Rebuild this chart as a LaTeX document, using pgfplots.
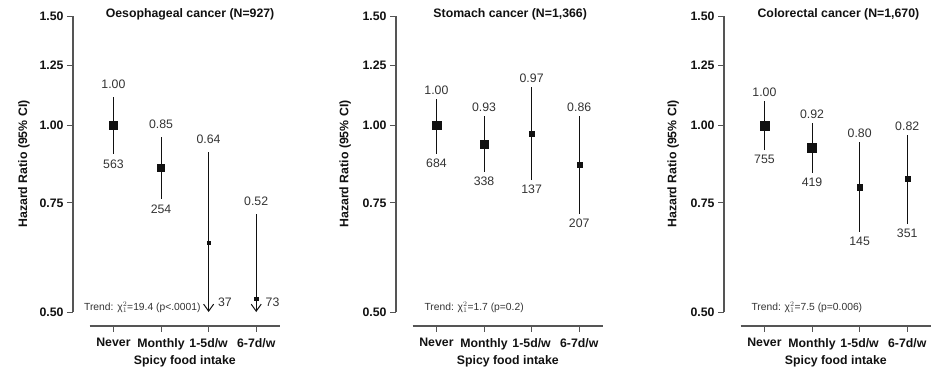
\documentclass[border=0pt]{standalone}
\usepackage{fontspec}
\setmainfont{Liberation Sans}
\usepackage{pgfplots}
\pgfplotsset{compat=1.18}
\usepackage{pgfplotstable}
\usetikzlibrary{arrows.meta}
\definecolor{axgray}{HTML}{555555}
\definecolor{labgray}{HTML}{333333}
\definecolor{ink}{HTML}{111111}
\newcommand{\bfont}{\fontsize{12.3}{14}\selectfont\bfseries}
\newcommand{\vfont}{\fontsize{12.3}{14}\selectfont}
\newcommand{\tfont}{\fontsize{10.3}{12}\selectfont}

\pgfplotstableread{
x y lo hi lab n s
0 1.000 0.899 1.110 1.00 563 4.1
1 0.853 0.761 0.957 0.85 254 3.5
2 0.646 0.500 0.905 0.64 37 1.6
3 0.525 0.500 0.719 0.52 73 1.7
}\oesoph
\pgfplotstableread{
x y lo hi lab n s
0 1.000 0.899 1.102 1.00 684 4.3
1 0.933 0.841 1.035 0.93 338 4.2
2 0.968 0.816 1.152 0.97 137 2.5
3 0.863 0.719 1.035 0.86 207 2.5
}\stomach
\pgfplotstableread{
x y lo hi lab n s
0 1.000 0.912 1.094 1.00 755 4.5
1 0.919 0.838 1.008 0.92 419 4.4
2 0.795 0.673 0.940 0.80 145 2.7
3 0.819 0.693 0.964 0.82 351 2.5
}\colorectal

\pgfplotsset{
  myaxisstyle/.style={
    scale only axis, width=207pt, height=310pt,
    xmin=-0.85, xmax=3.5, ymin=0.4747, ymax=1.5,
    clip=false, axis line style={draw=none},
    xtick={0,1,2,3}, xticklabels={Never,Monthly,1-5d/w,6-7d/w},
    ytick={0.5,0.75,1,1.25,1.5}, yticklabels={0.50,0.75,1.00,1.25,1.50},
    yminorticks=false, xminorticks=false,
    tick pos=left, tick align=outside, major tick length=6pt,
    tick style={axgray, line width=1pt},
    ticklabel style={font=\bfont, text=ink},
    xticklabel style={yshift=-3pt},
    xlabel={Spicy food intake}, ylabel={Hazard Ratio (95\% CI)},
    label style={font=\bfont, text=ink},
    xlabel style={at={(axis description cs:0.540,-0.113)}, anchor=center},
  },
  mymarks/.style={scatter, only marks, mark=square*,
    scatter/use mapped color={draw=ink, fill=ink},
    visualization depends on={\thisrow{s} \as \perpointmarksize},
    scatter/@pre marker code/.append style={/tikz/mark size=\perpointmarksize pt}},
}
\tikzset{
  myci/.style={ink, line width=1pt},
}

\begin{document}
\begin{tikzpicture}
\useasboundingbox (0pt,0pt) rectangle (939pt,378pt);

% ---------- Panel 1 ----------
\begin{axis}[ymode=log, myaxisstyle, at={(73pt,52pt)}, anchor=south west,
  ylabel style={at={(axis description cs:-0.237,0.5226)}, anchor=center}]
\draw[axgray, line width=1.1pt] (axis cs:-0.85,0.5) -- (axis cs:-0.85,1.5);
\draw[axgray, line width=1.1pt] (axis cs:-0.5,0.4747) -- (axis cs:3.5,0.4747);
\addplot[myci, mark=none] coordinates {(0,0.899) (0,1.110)};
\addplot[myci, mark=none] coordinates {(1,0.761) (1,0.957)};
\addplot[myci, mark=none, -{Straight Barb[length=7pt,width=10pt]}] coordinates {(2,0.905) (2,0.5)};
\addplot[myci, mark=none, -{Straight Barb[length=7pt,width=10pt]}] coordinates {(3,0.719) (3,0.5)};
\addplot[mymarks] table[x=x, y=y] {\oesoph};
\addplot[draw=none, mark=none, nodes near coords, point meta=explicit symbolic,
  nodes near coords style={anchor=center, yshift=13pt, text=labgray, font=\vfont}]
  table[x=x, y=hi, meta=lab] {\oesoph};
\addplot[draw=none, mark=none, nodes near coords, point meta=explicit symbolic,
  nodes near coords style={anchor=center, yshift=-10pt, text=labgray, font=\vfont}]
  table[x=x, y=lo, meta=n] {
x lo n
0 0.899 563
1 0.761 254
};
\addplot[draw=none, mark=none, nodes near coords, point meta=explicit symbolic,
  nodes near coords style={anchor=west, xshift=6pt, text=labgray, font=\vfont}]
  table[x=x, y=ly, meta=n] {
x ly n
2 0.519 37
3 0.519 73
};
\node[anchor=west, font=\tfont, text=labgray] at (axis cs:-0.69,0.509)
  {Trend: \mbox{χ}$^{2}_{1}$=19.4 (p<.0001)};
\node[font=\bfont, text=ink] at (axis cs:1.61,1.508) {Oesophageal cancer (N=927)};
\end{axis}

% ---------- Panel 2 ----------
\begin{axis}[ymode=log, myaxisstyle, at={(396pt,52pt)}, anchor=south west,
  ylabel style={at={(axis description cs:-0.246,0.5226)}, anchor=center}]
\draw[axgray, line width=1.1pt] (axis cs:-0.85,0.5) -- (axis cs:-0.85,1.5);
\draw[axgray, line width=1.1pt] (axis cs:-0.5,0.4747) -- (axis cs:3.5,0.4747);
\addplot[myci, mark=none] coordinates {(0,0.899) (0,1.102)};
\addplot[myci, mark=none] coordinates {(1,0.841) (1,1.035)};
\addplot[myci, mark=none] coordinates {(2,0.816) (2,1.152)};
\addplot[myci, mark=none] coordinates {(3,0.719) (3,1.035)};
\addplot[mymarks] table[x=x, y=y] {\stomach};
\addplot[draw=none, mark=none, nodes near coords, point meta=explicit symbolic,
  nodes near coords style={anchor=center, yshift=9pt, text=labgray, font=\vfont}]
  table[x=x, y=hi, meta=lab] {\stomach};
\addplot[draw=none, mark=none, nodes near coords, point meta=explicit symbolic,
  nodes near coords style={anchor=center, yshift=-9pt, text=labgray, font=\vfont}]
  table[x=x, y=lo, meta=n] {\stomach};
\node[anchor=west, font=\tfont, text=labgray] at (axis cs:-0.325,0.509)
  {Trend: \mbox{χ}$^{2}_{1}$=1.7 (p=0.2)};
\node[font=\bfont, text=ink] at (axis cs:1.55,1.508) {Stomach cancer (N=1,366)};
\end{axis}

% ---------- Panel 3 ----------
\begin{axis}[ymode=log, myaxisstyle, at={(724pt,52pt)}, anchor=south west,
  ylabel style={at={(axis description cs:-0.246,0.5226)}, anchor=center}]
\draw[axgray, line width=1.1pt] (axis cs:-0.85,0.5) -- (axis cs:-0.85,1.5);
\draw[axgray, line width=1.1pt] (axis cs:-0.5,0.4747) -- (axis cs:3.5,0.4747);
\addplot[myci, mark=none] coordinates {(0,0.912) (0,1.094)};
\addplot[myci, mark=none] coordinates {(1,0.838) (1,1.008)};
\addplot[myci, mark=none] coordinates {(2,0.673) (2,0.940)};
\addplot[myci, mark=none] coordinates {(3,0.693) (3,0.964)};
\addplot[mymarks] table[x=x, y=y] {\colorectal};
\addplot[draw=none, mark=none, nodes near coords, point meta=explicit symbolic,
  nodes near coords style={anchor=center, yshift=9pt, text=labgray, font=\vfont}]
  table[x=x, y=hi, meta=lab] {\colorectal};
\addplot[draw=none, mark=none, nodes near coords, point meta=explicit symbolic,
  nodes near coords style={anchor=center, yshift=-9pt, text=labgray, font=\vfont}]
  table[x=x, y=lo, meta=n] {\colorectal};
\node[anchor=west, font=\tfont, text=labgray] at (axis cs:-0.346,0.509)
  {Trend: \mbox{χ}$^{2}_{1}$=7.5 (p=0.006)};
\node[font=\bfont, text=ink] at (axis cs:1.555,1.508) {Colorectal cancer (N=1,670)};
\end{axis}
\end{tikzpicture}
\end{document}
